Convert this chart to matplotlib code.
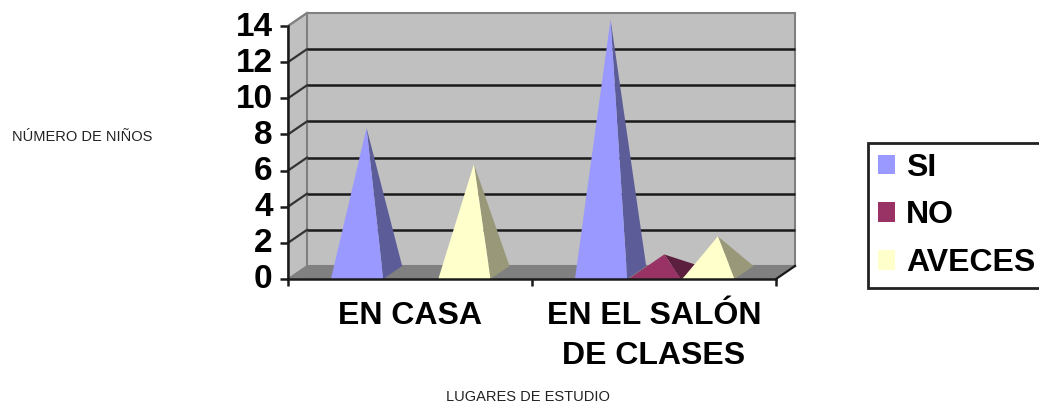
import matplotlib
matplotlib.use("Agg")
import matplotlib.pyplot as plt
from matplotlib.patches import Patch
from matplotlib.transforms import ScaledTranslation

plt.rcParams["font.family"] = ["Liberation Sans", "DejaVu Sans"]

categories = ["EN CASA", "EN EL SALÓN\nDE CLASES"]
series = ["SI", "NO", "AVECES"]
si = [8, 14]
no = [0, 1]
aveces = [6, 2]
yticks = [0, 2, 4, 6, 8, 10, 12, 14]

front = ["#9999FF", "#993366", "#FFFFCC"]
side = ["#5C5C99", "#5C1F3D", "#99997A"]

# figure is 1039x404, axes is the front plane of the fake 3d box
fig = plt.figure(figsize=(10.39, 4.04), dpi=100)
ax = fig.add_axes([288 / 1039, 1 - 279 / 404, 488 / 1039, 253 / 404])
ax.set_xlim(0, 2)
ax.set_ylim(0, 14)
ax.patch.set_visible(False)

# depth of the box in data units
dx = 19 / 244
dy = 13 / 18.07

# walls and floor
ax.fill([0, dx, dx, 0], [0, dy, 14 + dy, 14], fc="#C0C0C0", ec="#808080", lw=1.2, clip_on=False, zorder=1)
ax.fill([dx, 2 + dx, 2 + dx, dx], [dy, dy, 14 + dy, 14 + dy], fc="#C0C0C0", ec="#808080", lw=1.5, clip_on=False, zorder=1)
ax.fill([0, 2, 2 + dx, dx], [0, 0, dy, dy], fc="#808080", ec="none", clip_on=False, zorder=2)

# gridlines, back wall and the slanted bit on the side wall
for t in yticks[1:-1]:
    ax.plot([dx, 2 + dx], [t + dy, t + dy], color="#1A1A1A", lw=1.8, clip_on=False, zorder=2, solid_capstyle="butt")
for t in yticks[1:]:
    ax.plot([0, dx], [t, t + dy], color="#333333" if t < 14 else "#808080", lw=1.6, clip_on=False, zorder=2)
ax.plot([2, 2 + dx], [0, dy], color="#1A1A1A", lw=1.6, clip_on=False, zorder=3)

# pyramids
bar_w = 0.214
step = 0.22
margin = 0.176
for s, vals in enumerate([si, no, aveces]):
    for c, v in enumerate(vals):
        if v == 0:
            continue
        x0 = c + margin + s * step
        x1 = x0 + bar_w
        tip_x = (x0 + x1) / 2 + dx / 2
        tip_y = v + dy / 2
        ax.fill([x1, x1 + dx, tip_x], [0, dy, tip_y], fc=side[s], ec="none", clip_on=False, zorder=4 + s)
        ax.fill([x0, x1, tip_x], [0, 0, tip_y], fc=front[s], ec="none", clip_on=False, zorder=4 + s)

for sp in ["top", "right"]:
    ax.spines[sp].set_visible(False)
for sp in ["left", "bottom"]:
    ax.spines[sp].set_linewidth(1.8)
    ax.spines[sp].set_color("#1A1A1A")
    ax.spines[sp].set_zorder(8)

ax.set_yticks(yticks)
ax.set_yticklabels([str(t) for t in yticks], fontsize=24, fontweight="bold")
ax.tick_params(axis="y", length=6, width=1.8, color="#1A1A1A", pad=5)
# labels sit a bit above their ticks in the original
up = ScaledTranslation(0, 2.5 / 100, fig.dpi_scale_trans)
for lab in ax.get_yticklabels():
    lab.set_transform(lab.get_transform() + up)
ax.set_xticks([0, 1, 2])
ax.set_xticklabels([])
ax.tick_params(axis="x", which="major", length=5, width=1.8, color="#1A1A1A")
ax.set_xticks([0.5, 1.5], minor=True)
ax.set_xticklabels(categories, minor=True, fontsize=23, fontweight="bold", linespacing=1.42)
ax.tick_params(axis="x", which="minor", length=0, pad=16)

fig.text(82 / 1039, 1 - 137 / 404, "NÚMERO DE NIÑOS", fontsize=10.5, ha="center", va="center", color="#222222")
fig.text(528 / 1039, 1 - 397 / 404, "LUGARES DE ESTUDIO", fontsize=10.5, ha="center", va="center", color="#222222")

handles = [Patch(fc=front[i], ec="none", label=series[i]) for i in range(3)]
leg = fig.legend(handles=handles, loc="upper left", bbox_to_anchor=(868 / 1039, 1 - 143 / 404),
                 borderaxespad=0, prop={"size": 23, "weight": "bold"}, fancybox=False, framealpha=1,
                 edgecolor="#222222", handlelength=0.56, handleheight=0.56, handletextpad=0.33,
                 labelspacing=0.56, borderpad=0.3)
leg.get_frame().set_linewidth(2)

fig.savefig("out.png", dpi=100)
